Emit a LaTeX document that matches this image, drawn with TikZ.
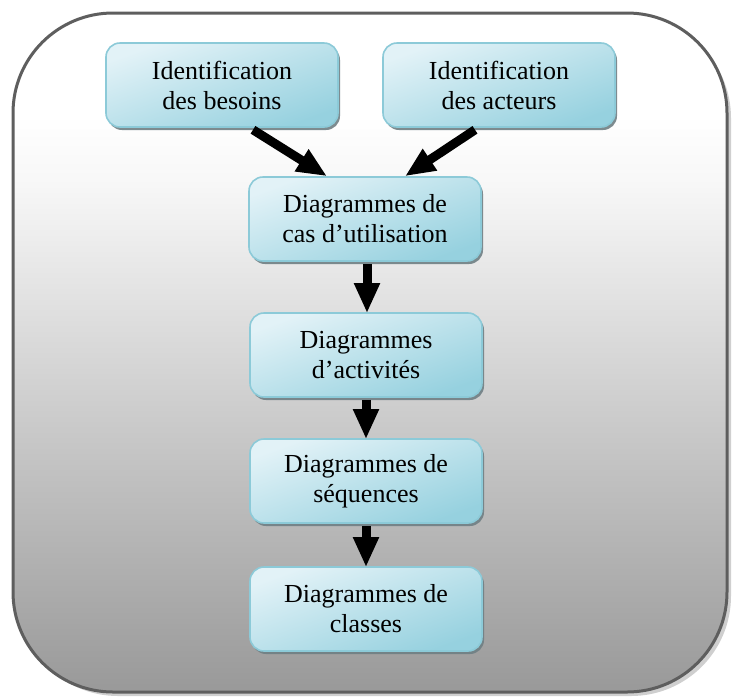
\documentclass[tikz,border=0pt]{standalone}
\usepackage{fontspec}
\setmainfont{Liberation Serif}
\usetikzlibrary{arrows.meta,shadows}

\definecolor{frameline}{HTML}{5E5E5E}
\definecolor{frameshadow}{HTML}{CFCFCF}
\definecolor{boxline}{HTML}{8CCAD8}
\definecolor{boxlight}{HTML}{E2F2F7}
\definecolor{boxdark}{HTML}{96D1DF}
\definecolor{boxshadow}{HTML}{6F7F84}

% background panel: white on top, fading to mid grey at the bottom
% (the shaded path spans the 25bp--75bp band of the declared range)
\pgfdeclareverticalshading{panelfade}{100bp}{
  color(0bp)=(black!40); color(25bp)=(black!40); color(42.5bp)=(black!23);
  color(53.5bp)=(black!12); color(62.5bp)=(black!3); color(67.5bp)=(white);
  color(100bp)=(white)}

\tikzset{
  stepbox/.style={
    draw=boxline, line width=1.6pt, rounded corners=14pt,
    minimum width=232pt, minimum height=84pt,
    top color=boxlight, bottom color=boxdark, shading angle=20,
    align=center, font=\fontsize{26}{30}\selectfont, text=black,
    drop shadow={shadow xshift=2pt, shadow yshift=-3pt, fill=boxshadow, opacity=0.9}
  },
  flow/.style={line width=9pt, -{Triangle[width=24pt,length=30pt]}, black}
}

\begin{document}
\begin{tikzpicture}[x=1pt,y=1pt]
\useasboundingbox (0,0) rectangle (733,-697);

% outer panel with its soft shadow
\fill[frameshadow, rounded corners=100pt] (18,-18) rectangle (731,-696);
\shade[shading=panelfade, rounded corners=100pt] (13,-13) rectangle (727,-692);
\draw[frameline, line width=3pt, rounded corners=100pt] (13,-13) rectangle (727,-692);

% process steps
\node[stepbox] (besoins) at (222,-85) {Identification\\des besoins};
\node[stepbox] (acteurs) at (499,-85) {Identification\\des acteurs};
\node[stepbox] (cas) at (365,-219) {Diagrammes de\\cas d’utilisation};
\node[stepbox] (activites) at (366,-355) {Diagrammes\\d’activités};
\node[stepbox] (sequences) at (366,-481) {Diagrammes de\\séquences};
\node[stepbox] (classes) at (366,-609) {Diagrammes de\\classes};

% connectors
\draw[flow] ([xshift=31pt,yshift=-2pt]besoins.south) -- ([xshift=-38pt]cas.north);
\draw[flow] ([xshift=-24pt,yshift=-2pt]acteurs.south) -- ([xshift=40pt]cas.north);
\draw[flow] ([xshift=2pt,yshift=-2pt]cas.south) -- ([xshift=1pt,yshift=-1pt]activites.north);
\draw[flow] ([yshift=-2pt]activites.south) -- ([yshift=-1pt]sequences.north);
\draw[flow] ([yshift=-2pt]sequences.south) -- ([yshift=-1pt]classes.north);
\end{tikzpicture}
\end{document}
